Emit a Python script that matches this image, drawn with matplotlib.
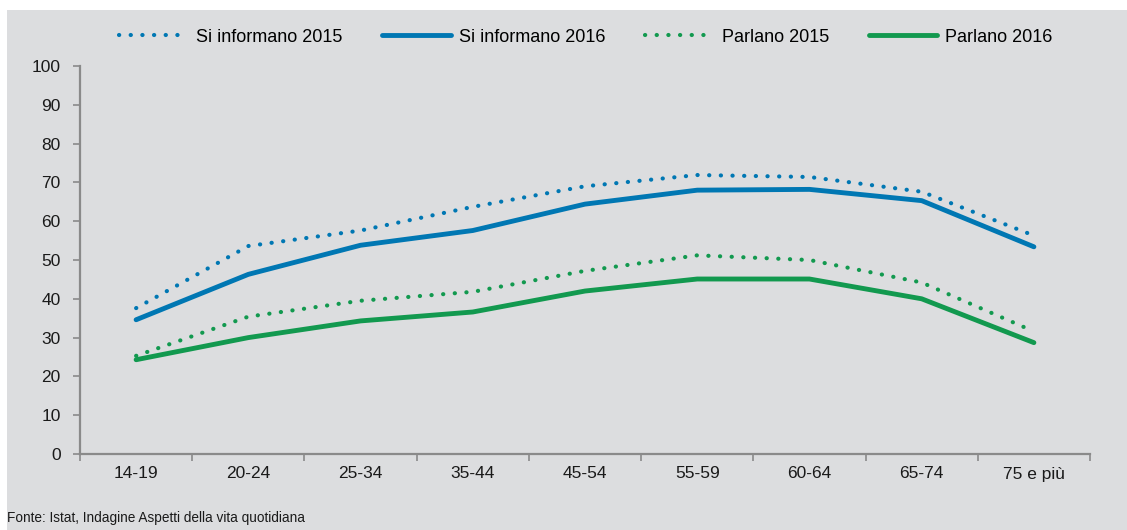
import numpy as np
import matplotlib
matplotlib.use("Agg")
import matplotlib.pyplot as plt
from matplotlib.patches import Rectangle
from matplotlib.ticker import FixedLocator

# data: share of people by age class
categories = ["14-19", "20-24", "25-34", "35-44", "45-54", "55-59", "60-64", "65-74", "75 e più"]
info_2015 = [37.6, 53.6, 57.6, 63.7, 69.0, 71.9, 71.4, 67.6, 56.3]
info_2016 = [34.6, 46.3, 53.8, 57.6, 64.4, 68.0, 68.2, 65.3, 53.4]
parl_2015 = [25.3, 35.4, 39.5, 41.8, 47.2, 51.2, 50.0, 44.2, 31.6]
parl_2016 = [24.3, 30.0, 34.3, 36.6, 42.0, 45.1, 45.1, 40.0, 28.7]

blue = "#0077b3"
green = "#12994f"
bg = "#dcdddf"
axis_col = "#8a8a8a"

plt.rcParams['font.family'] = ['Liberation Sans', 'DejaVu Sans']

fig = plt.figure(figsize=(11.27, 5.30), dpi=100)
fig.patch.set_facecolor("white")
fig.patches.append(Rectangle((7 / 1127, 0), 1, 520 / 530, transform=fig.transFigure,
                             facecolor=bg, edgecolor="none", zorder=-5))

ax = fig.add_axes([80 / 1127, 76 / 530, 1010 / 1127, 388 / 530])
ax.set_zorder(2)
ax.patch.set_alpha(0)

x = np.arange(len(categories)) + 0.5
dot = (0, (0.05, 2.75))
ax.plot(x, info_2015, color=blue, lw=3.0, ls=dot, dash_capstyle="round", label="Si informano 2015")
ax.plot(x, info_2016, color=blue, lw=3.5, solid_capstyle="round", label="Si informano 2016")
ax.plot(x, parl_2015, color=green, lw=3.0, ls=dot, dash_capstyle="round", label="Parlano 2015")
ax.plot(x, parl_2016, color=green, lw=3.5, solid_capstyle="round", label="Parlano 2016")

ax.set_xlim(0, len(categories))
ax.set_ylim(0, 100)
ax.set_yticks(range(0, 101, 10))
ax.xaxis.set_major_locator(FixedLocator(np.arange(len(categories) + 1)))
ax.xaxis.set_minor_locator(FixedLocator(x))
ax.set_xticklabels([])
ax.set_xticklabels(categories, minor=True)

for s in ["top", "right"]:
    ax.spines[s].set_visible(False)
for s in ["left", "bottom"]:
    ax.spines[s].set_color(axis_col)
    ax.spines[s].set_linewidth(1.6)

ax.tick_params(axis="y", length=5, width=1.2, color=axis_col, pad=9, labelsize=12.5, labelcolor="#1a1a1a")
ax.tick_params(axis="x", which="major", length=5, width=1.2, color=axis_col)
ax.tick_params(axis="x", which="minor", length=0, pad=9, labelsize=12.5, labelcolor="#1a1a1a")

leg = fig.legend(loc="center", bbox_to_anchor=(586 / 1127, 1 - 37 / 530), ncol=4, frameon=False,
                 fontsize=13, handlelength=3.8, handletextpad=0.45, columnspacing=2.2)

fig.text(7 / 1127, 1 - 518 / 530, "Fonte: Istat, Indagine Aspetti della vita quotidiana",
         fontsize=9.8, color="#1a1a1a", va="center", ha="left")

fig.savefig("out.png", dpi=100)
